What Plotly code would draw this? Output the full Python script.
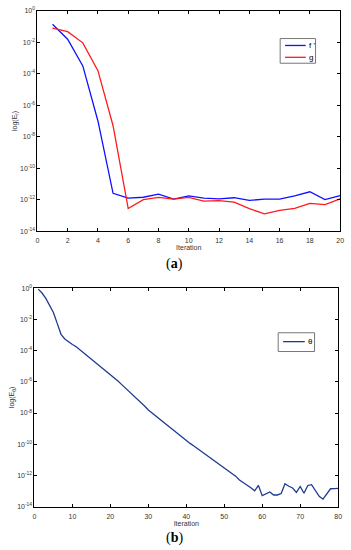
import plotly.graph_objects as go

# panel (a): log10 of error per iteration
iter_a = list(range(1, 21))
log_fprime = [-0.85, -1.8, -3.5, -7.0, -11.6, -11.9, -11.85, -11.65, -11.97, -11.76,
              -11.9, -11.95, -11.88, -12.05, -11.97, -11.97, -11.76, -11.5, -12.0, -11.74]
log_g = [-1.1, -1.32, -2.03, -3.8, -7.3, -12.57, -12.0, -11.86, -11.97, -11.86,
         -12.1, -12.07, -12.16, -12.57, -12.9, -12.68, -12.56, -12.24, -12.32, -11.95]

# panel (b)
iter_b = list(range(1, 81))
log_theta = [-0.05, -0.3, -0.65, -1.06, -1.55, -2.25, -2.95, -3.25, -3.45, -3.6,
             -3.75, -3.95, -4.15, -4.35, -4.55, -4.73, -4.92, -5.1, -5.3, -5.5,
             -5.72, -5.95, -6.18, -6.4, -6.63, -6.85, -7.08, -7.3, -7.55, -7.8,
             -8.0, -8.2, -8.4, -8.6, -8.8, -9.0, -9.2, -9.4, -9.58, -9.76,
             -9.95, -10.12, -10.3, -10.48, -10.66, -10.85, -11.02, -11.2, -11.38, -11.56,
             -11.72, -11.9, -12.05, -12.3, -12.45, -12.62, -12.8, -12.99, -12.65, -13.3,
             -13.2, -13.07, -13.26, -13.26, -13.17, -12.54, -12.7, -12.81, -13.09, -12.71,
             -13.15, -12.65, -12.6, -13.0, -13.34, -13.53, -13.2, -12.86, -12.85, -12.83]

x_ticks_a = list(range(0, 21, 2))
x_ticks_b = list(range(0, 81, 10))
y_exps = [0, -2, -4, -6, -8, -10, -12, -14]
y_labels = ["10<sup>%d</sup>" % e if e == 0 else "10<sup>-%d</sup>" % -e for e in y_exps]

W, H = 351, 550
BLUE, RED, NAVY = "#1010ff", "#ff1a1a", "#1f3b8f"


def px(x0, x1):
    return [x0 / W, x1 / W]


def py(y0, y1):
    return [1 - y1 / H, 1 - y0 / H]


fig = go.Figure()
fig.add_trace(go.Scatter(x=iter_a, y=[10 ** v for v in log_fprime], mode="lines", name="f '",
                         line=dict(color=BLUE, width=1.3), xaxis="x", yaxis="y"))
fig.add_trace(go.Scatter(x=iter_a, y=[10 ** v for v in log_g], mode="lines", name="g",
                         line=dict(color=RED, width=1.3), xaxis="x", yaxis="y"))
fig.add_trace(go.Scatter(x=iter_b, y=[10 ** v for v in log_theta], mode="lines", name="θ",
                         line=dict(color=NAVY, width=1.3), xaxis="x2", yaxis="y2"))

tickfont = dict(family="Liberation Sans", size=7, color="#333")
common_x = dict(showline=True, linecolor="black", linewidth=1, mirror="ticks", ticks="inside",
                ticklen=3, tickcolor="black", showgrid=False, zeroline=False, tickfont=tickfont,
                ticklabelstandoff=3, ticklabeloverflow="allow")
common_y = dict(type="log", range=[-14, 0], tickvals=[10 ** e for e in y_exps], ticktext=y_labels,
                showline=True, linecolor="black", linewidth=1, mirror="ticks", ticks="inside",
                ticklen=3, tickcolor="black", showgrid=False, zeroline=False, tickfont=tickfont,
                ticklabeloverflow="allow")
title_font = dict(family="Liberation Sans", size=7, color="#333")
legend_font = dict(family="Liberation Sans", size=8, color="black")

# compact matlab-style legend boxes (plotly's own legend rows are too tall here)
shapes = []
annotations = []


def legend_box(x0, x1, y0, y1, items):
    shapes.append(dict(type="rect", xref="paper", yref="paper", x0=x0 / W, x1=x1 / W,
                       y0=1 - y1 / H, y1=1 - y0 / H, line=dict(color="#777", width=1),
                       fillcolor="white", layer="above"))
    for name, color, yy in items:
        shapes.append(dict(type="line", xref="paper", yref="paper", x0=(x0 + 5) / W,
                           x1=(x1 - 10) / W, y0=1 - yy / H, y1=1 - yy / H,
                           line=dict(color=color, width=1.3), layer="above"))
        annotations.append(dict(text=name, x=(x1 - 9) / W, y=1 - yy / H, xref="paper",
                                yref="paper", xanchor="left", yanchor="middle",
                                showarrow=False, font=legend_font))


legend_box(283, 319, 35, 60, [("f '", BLUE, 42), ("g", RED, 54)])
legend_box(281, 318, 333, 352, [("θ", NAVY, 342)])

annotations += [
    dict(text="(<b>a</b>)", x=176 / W, y=1 - 263 / H, xref="paper", yref="paper",
         xanchor="center", yanchor="middle", showarrow=False,
         font=dict(family="Liberation Serif", size=14, color="black")),
    dict(text="(<b>b</b>)", x=176 / W, y=1 - 541 / H, xref="paper", yref="paper",
         xanchor="center", yanchor="middle", showarrow=False,
         font=dict(family="Liberation Serif", size=14, color="black")),
]

fig.update_layout(
    width=W, height=H, margin=dict(l=0, r=0, t=0, b=0),
    paper_bgcolor="white", plot_bgcolor="white", showlegend=False,
    xaxis=dict(common_x, domain=px(36, 344), range=[0, 20], tickvals=x_ticks_a, anchor="y",
               title=dict(text="Iteration", font=title_font, standoff=0)),
    yaxis=dict(common_y, domain=py(7, 230), anchor="x",
               title=dict(text="log(E<sub>f</sub>)", font=title_font, standoff=1)),
    xaxis2=dict(common_x, domain=px(33, 342), range=[0, 80], tickvals=x_ticks_b, anchor="y2",
                title=dict(text="Iteration", font=title_font, standoff=0)),
    yaxis2=dict(common_y, domain=py(288, 509), anchor="x2",
                title=dict(text="log(E<sub>θ</sub>)", font=title_font, standoff=1)),
    shapes=shapes,
    annotations=annotations,
)

# page body has a default 8px margin; drop it so the figure sits at the window corner
fig.write_html("out.html", config={"displayModeBar": False},
               post_script="document.body.style.margin='0';")
